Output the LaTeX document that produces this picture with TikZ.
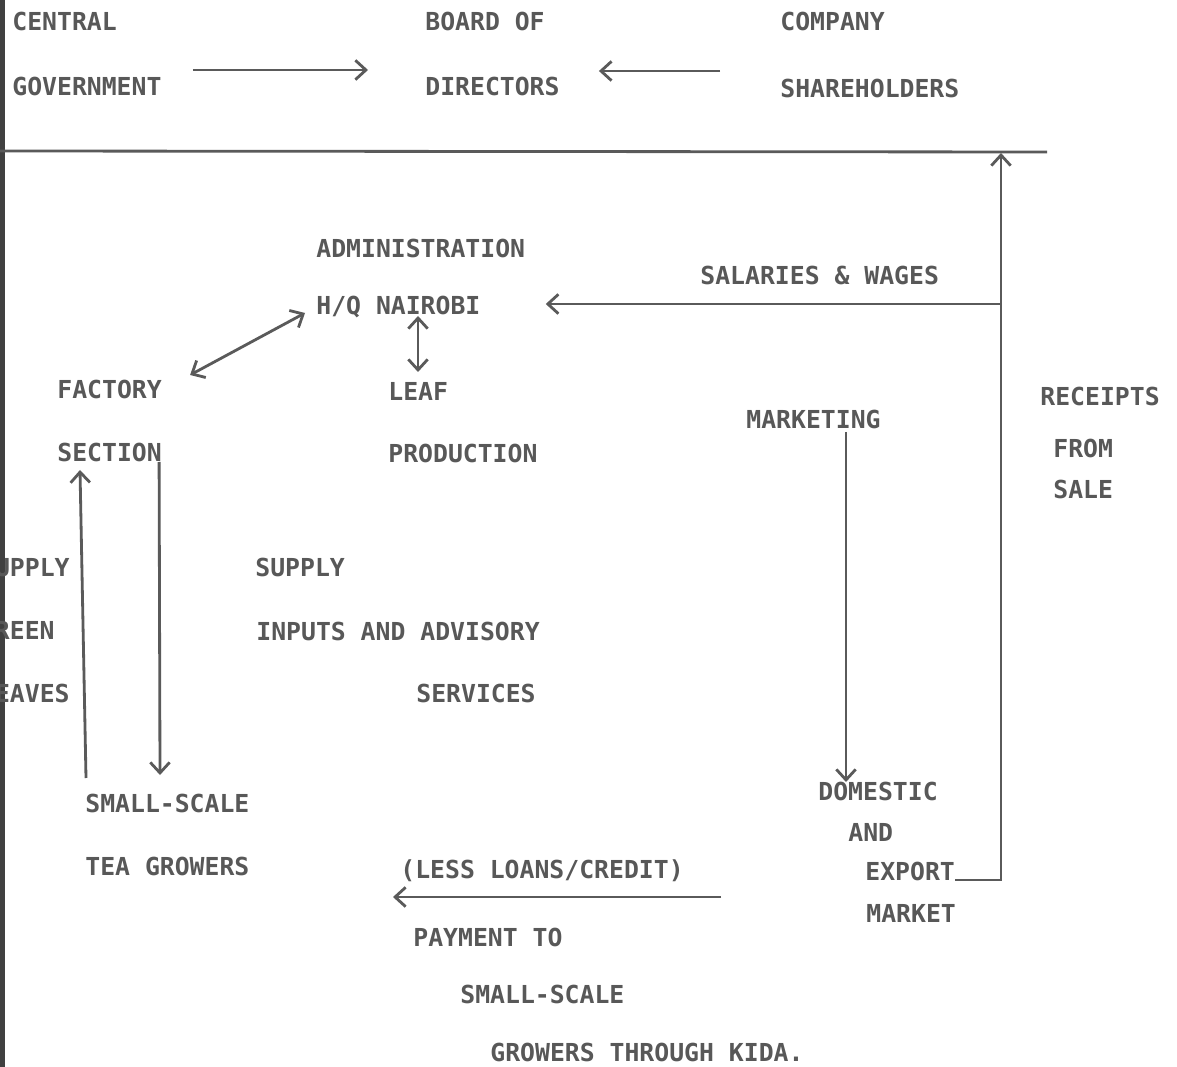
\documentclass[tikz,border=0pt]{standalone}
\usepackage{fontspec}
\setmonofont{DejaVu Sans Mono}
\usetikzlibrary{arrows.meta,calc}
\definecolor{ink}{HTML}{585858}
\definecolor{lineink}{HTML}{5A5A5A}
\tikzset{
  lbl/.style={anchor=west,inner sep=0pt,text=ink,font=\ttfamily\bfseries\fontsize{14.1}{16}\selectfont,text height=10.3pt,text depth=0pt},
  lblr/.style={lbl,anchor=east},
  conn/.style={draw=lineink,line width=1.6pt},
  arr/.style={conn,-{Straight Barb[length=6pt,width=11pt]}},
  darr/.style={conn,{Straight Barb[length=6pt,width=11pt]}-{Straight Barb[length=6pt,width=11pt]}}
}
\begin{document}
\begin{tikzpicture}[x=0.02cm,y=-0.02cm]
\useasboundingbox (0,0) rectangle (1177,1067);
\fill[white] (0,0) rectangle (1177,1067);
\clip (0,0) rectangle (1177,1067);
% scan edge
\fill[black!75] (0,0) rectangle (5,1067);

% top row
\node[lbl] (cen) at (12,21) {CENTRAL};
\node[lbl] (gov) at (12,86) {GOVERNMENT};
\node[lbl] (boa) at (425,21) {BOARD OF};
\node[lbl] (dir) at (425,86) {DIRECTORS};
\node[lbl] (com) at (780,21) {COMPANY};
\node[lbl] (sha) at (780,88) {SHAREHOLDERS};

% middle
\node[lbl] (adm) at (316,248) {ADMINISTRATION};
\node[lbl] (hq) at (316,305) {H/Q NAIROBI};
\node[lbl] (sal) at (700,275) {SALARIES \& WAGES};
\node[lbl] (fac) at (57,389) {FACTORY};
\node[lbl] (sec) at (57,452) {SECTION};
\node[lbl] (leaf) at (388,391) {LEAF};
\node[lbl] (pro) at (388,453) {PRODUCTION};
\node[lbl] (mkt) at (746,419) {MARKETING};
\node[lbl] (rec) at (1040,396) {RECEIPTS};
\node[lbl] (frm) at (1053,448) {FROM};
\node[lbl] (sale) at (1053,489) {SALE};

% left labels, cut off by the page edge as in the scan
\node[lblr] (sup1) at (70,567) {SUPPLY};
\node[lblr] (grn) at (55,630) {GREEN};
\node[lblr] (lvs) at (70,693) {LEAVES};

\node[lbl] (sup2) at (255,567) {SUPPLY};
\node[lbl] (inp) at (256,631) {INPUTS AND ADVISORY};
\node[lbl] (ser) at (416,693) {SERVICES};

% bottom
\node[lbl] (ss1) at (85,803) {SMALL-SCALE};
\node[lbl] (tea) at (85,866) {TEA GROWERS};
\node[lbl] (less) at (400,869) {(LESS LOANS/CREDIT)};
\node[lbl] (pay) at (413,937) {PAYMENT TO};
\node[lbl] (ss2) at (460,994) {SMALL-SCALE};
\node[lbl] (grw) at (490,1052) {GROWERS THROUGH KIDA.};
\node[lbl] (dom) at (818,791) {DOMESTIC};
\node[lbl] (and) at (848,832) {AND};
\node[lbl] (exp) at (865,871) {EXPORT};
\node[lbl] (mar) at (866,913) {MARKET};

% connectors
\draw[arr] ($(gov.east)+(31,-16)$) -- ($(dir.west)+(-57,-16)$);
\draw[arr] ($(sha.west)+(-60,-17)$) -- ($(dir.east)+(39,-15)$);

\coordinate (lineL) at (0,151);
\coordinate (lineR) at (1047,152);
\draw[conn] (lineL) -- (lineR);

\coordinate (rbar) at (1001,880);
\draw[arr] ($(exp.east)+(0,9)$) -- (rbar) -- (1001,153);
\coordinate (salstart) at (1000,304);
\draw[arr] (salstart) -- ($(hq.east)+(65,-1)$);

\draw[darr] ($(fac.east)+(28,-14)$) -- ($(hq.west)+(-11,8)$);
\draw[darr] ($(hq.west)+(102,11)$) -- ($(leaf.west)+(30,-19)$);

\draw[arr] ($(mkt.west)+(100,13)$) -- ($(dom.west)+(28,-9)$);

\draw[arr] ($(ss1.west)+(1,-25)$) -- ($(sec.west)+(23,18)$);
\draw[arr] ($(sec.east)+(-3,10)$) -- ($(ss1.west)+(75,-28)$);

\draw[arr] ($(less.east)+(37,28)$) -- ($(less.west)+(-7,28)$);
\end{tikzpicture}
\end{document}
